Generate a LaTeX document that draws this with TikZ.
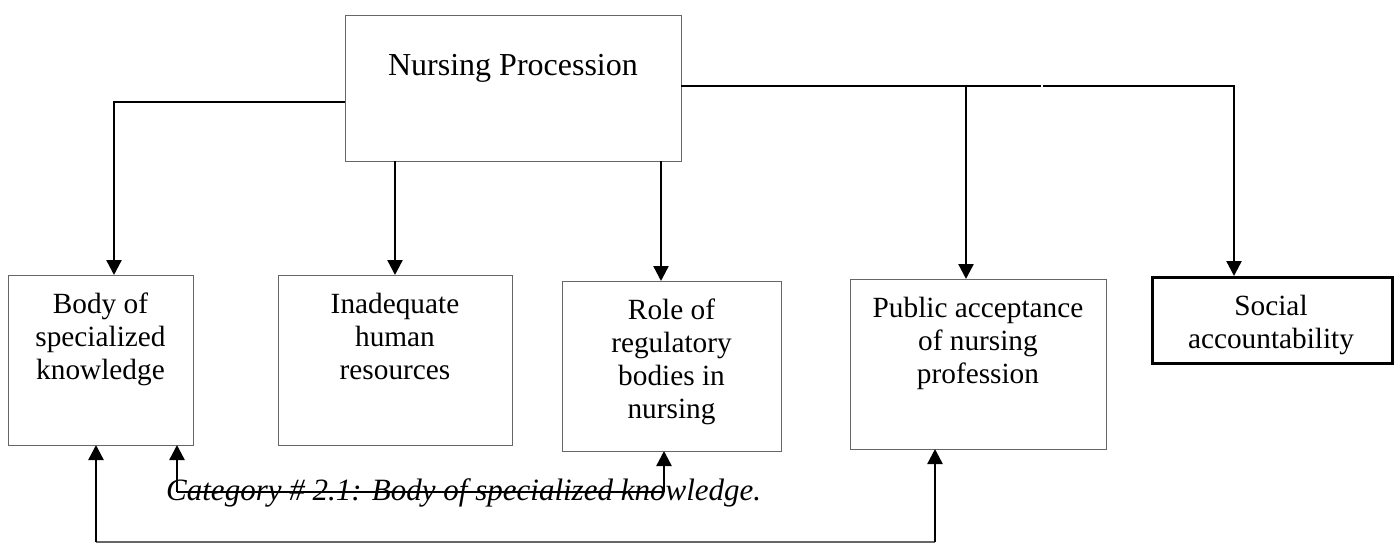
\documentclass[tikz,border=0pt]{standalone}
\usepackage{fontspec}
\setmainfont{Liberation Serif}
\usetikzlibrary{arrows.meta}
\newcommand{\firstline}{\vrule height 24pt depth 0pt width 0pt}
\begin{document}
\begin{tikzpicture}[x=1pt,y=-1pt,
  box/.style={draw=black!60, line width=1.2pt, inner sep=0pt, anchor=north west},
  boldbox/.style={draw=black, line width=2.6pt, inner sep=0pt, anchor=north west},
  lbl/.style={anchor=north, align=center, inner sep=0pt,
    font=\fontsize{29.3}{33}\selectfont},
  conn/.style={draw=black, line width=2.4pt},
  thinconn/.style={draw=black!60, line width=1.2pt},
  arr/.style={conn, -{Triangle[length=15pt,width=15pt]}}]
\useasboundingbox (0,0) rectangle (1397,543);

% boxes
\node[box, minimum width=336pt, minimum height=146pt] (top) at (345,15) {};
\node[box, minimum width=185pt, minimum height=170pt] (b1) at (8,275) {};
\node[box, minimum width=234pt, minimum height=170pt] (b2) at (278,275) {};
\node[box, minimum width=219pt, minimum height=170pt] (b3) at (562,281) {};
\node[box, minimum width=256pt, minimum height=170pt] (b4) at (850,279) {};
\node[boldbox, minimum width=240pt, minimum height=86pt] (b5) at (1151,276) {};

% labels
\node[lbl, font=\fontsize{32}{36}\selectfont] (ttop) at (513,51) {\firstline Nursing Procession};
\node[lbl] (t1) at (100.5,289) {\firstline Body of\\specialized\\knowledge};
\node[lbl] (t2) at (395,289) {\firstline Inadequate\\human\\resources};
\node[lbl] (t3) at (671.5,295) {\firstline Role of\\regulatory\\bodies in\\nursing};
\node[lbl] (t4) at (978,293) {\firstline Public acceptance\\of nursing\\profession};
\node[lbl] (t5) at (1271,291) {\firstline Social\\accountability};
\node[anchor=base west, inner sep=0pt, font=\fontsize{31}{36}\selectfont\itshape]
  (cat) at (166,500) {Category \# 2.1: Body of specialized knowledge.};

% connector end points on the boxes
\coordinate (topL) at (345,102);
\coordinate (topR) at (681,86);
\coordinate (topB2) at (395,161);
\coordinate (topB3) at (661,161);
\coordinate (b1n) at (114,275);
\coordinate (b2n) at (395,275);
\coordinate (b3n) at (661,281);
\coordinate (b4n) at (966,279);
\coordinate (b5n) at (1234,276);
\coordinate (j4) at (966,86);
\coordinate (gapL) at (1041,86);
\coordinate (gapR) at (1043,86);
\coordinate (b1sA) at (96,445);
\coordinate (b1sB) at (177,445);
\coordinate (b3s) at (664,451);
\coordinate (b4s) at (935,449);
\coordinate (botL) at (96,542);
\coordinate (botR) at (935,542);
\coordinate (midL) at (177,492);
\coordinate (midR) at (664,492);

% top branches
\draw[arr] (topL) -| (b1n);
\draw[arr] (topB2) -- (b2n);
\draw[arr] (topB3) -- (b3n);
\draw[conn] (topR) -- (gapL);
\draw[arr] (j4) -- (b4n);
\draw[arr] (gapR) -| (b5n);

% lower links
\draw[thinconn] (botL) -- (botR);
\draw[arr] (botL) -- (b1sA);
\draw[arr] (botR) -- (b4s);
\draw[draw=black, line width=1.4pt] (midL) -- (midR);
\draw[arr] (midL) -- (b1sB);
\draw[arr] (midR) -- (b3s);
\end{tikzpicture}
\end{document}
